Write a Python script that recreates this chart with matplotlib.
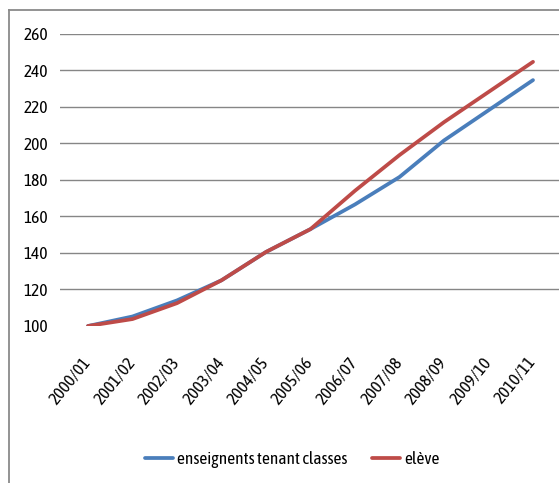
import matplotlib
matplotlib.use("Agg")
import matplotlib.pyplot as plt
from matplotlib import font_manager
from matplotlib.lines import Line2D

names = {f.name for f in font_manager.fontManager.ttflist}
font = 'Lato'
for cand in ['Asap Condensed', 'Archivo Narrow', 'Roboto Condensed', 'Carlito']:
    if cand in names:
        font = cand
        break
plt.rcParams['font.family'] = [font, 'DejaVu Sans']
FS = 12.5

years = ['2000/01', '2001/02', '2002/03', '2003/04', '2004/05', '2005/06',
         '2006/07', '2007/08', '2008/09', '2009/10', '2010/11']
enseignants = [100, 105.2, 114, 125, 140.5, 153, 166.5, 181.5, 201.5, 218, 234.5]
eleve = [100, 103.8, 112.5, 125, 140.5, 153, 174, 193.5, 211.5, 228, 244.5]
yticks = [100, 120, 140, 160, 180, 200, 220, 240, 260]

W, H = 559, 483
fig = plt.figure(figsize=(W / 100, H / 100), dpi=100)
left, right = 60, 559
top, bottom = 33.5, 326
ax = fig.add_axes([left / W, 1 - bottom / H, (right - left) / W, (bottom - top) / H])

x = list(range(len(years)))
ax.plot(x, enseignants, color='#4A7EBB', lw=2.7, solid_capstyle='round',
        label='enseignents tenant classes', zorder=3)
ax.plot(x, eleve, color='#BE4B48', lw=2.7, solid_capstyle='round',
        label='elève', zorder=4)

ax.set_xlim((left - 88) / 44.5, (right - 88) / 44.5)
ax.set_ylim(100, 260)
ax.set_yticks(yticks)
ax.set_xticks(x)
ax.set_xticklabels(years, rotation=51, ha='right', va='center', rotation_mode='anchor')
ax.tick_params(axis='both', length=0, labelsize=FS, colors='black')
ax.tick_params(axis='y', pad=8.5)
ax.tick_params(axis='x', pad=24)
for s in ax.spines.values():
    s.set_visible(False)
for yv in yticks[1:]:
    ax.axhline(yv, color='#868686', lw=1.0, zorder=1)

leg = fig.legend(loc='center', bbox_to_anchor=(292 / W, 1 - 460 / H), ncol=2,
                 frameon=False, fontsize=FS, handlelength=1.6, handletextpad=0.23,
                 columnspacing=1.45)

fig.add_artist(Line2D([9 / W, 9 / W], [0, 1 - 10 / H], color='#8a8a8a', lw=1.3,
                      transform=fig.transFigure))
fig.add_artist(Line2D([9 / W, 1], [1 - 10 / H, 1 - 10 / H], color='#8a8a8a', lw=1.3,
                      transform=fig.transFigure))

fig.savefig('out.png', dpi=100)
